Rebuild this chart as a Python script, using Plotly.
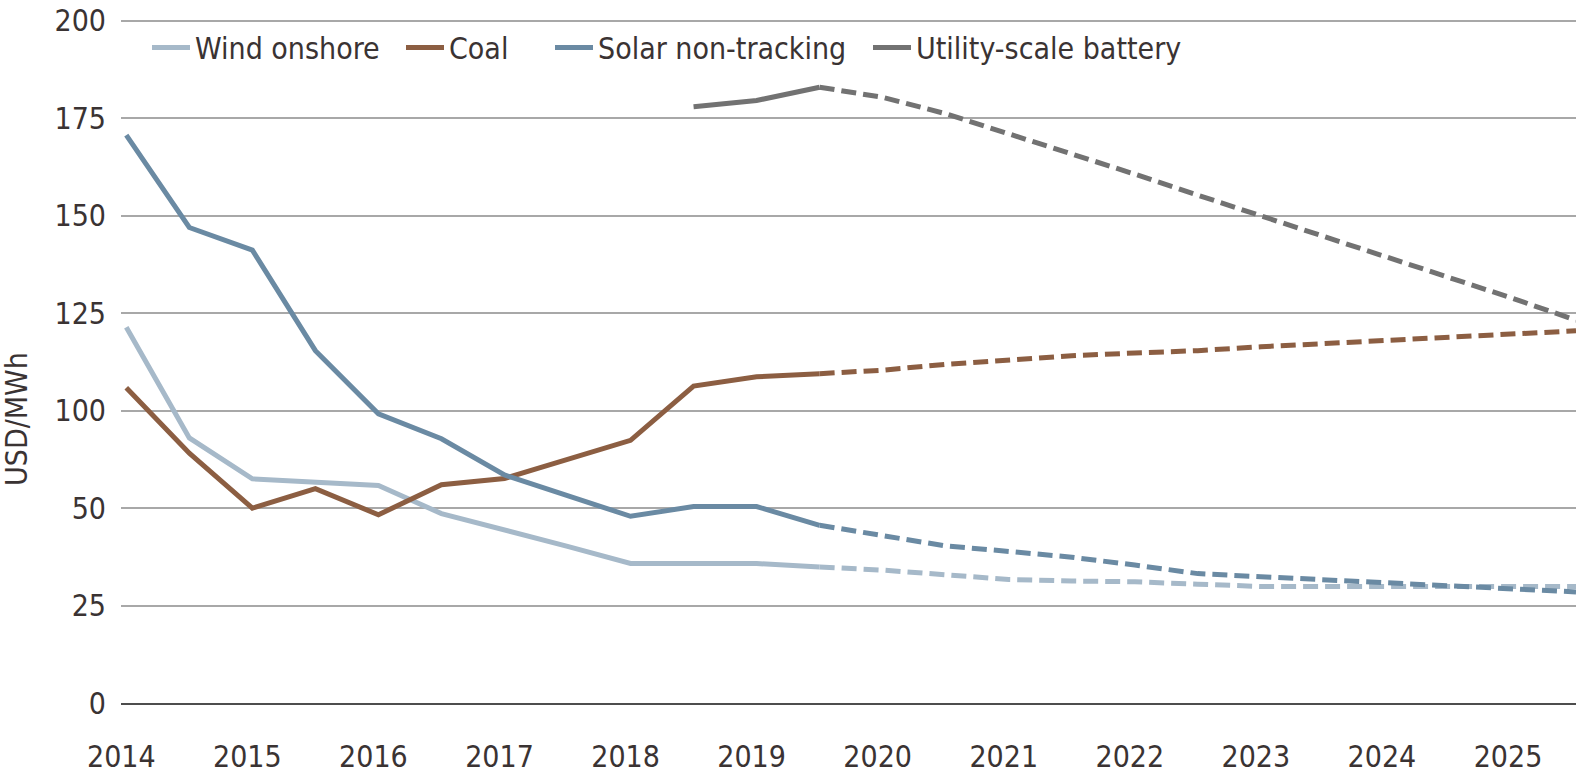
import plotly.graph_objects as go

# ---- data (y values are in the chart's axis units; tick labels below as printed) ----
years_hist = [2014, 2014.5, 2015, 2015.5, 2016, 2016.5, 2017, 2017.5, 2018, 2018.5, 2019, 2019.5]
years_proj = [2019.5, 2020, 2020.5, 2021, 2021.5, 2022, 2022.5, 2023, 2023.5, 2024, 2024.5, 2025, 2025.5]
years_battery_hist = [2018.5, 2019, 2019.5]

wind_hist = [96.4, 68.0, 57.5, 56.5, 55.8, 48.6, 44.5, 40.2, 35.8, 35.8, 35.8, 34.9]
wind_proj = [34.9, 34.1, 32.9, 31.7, 31.3, 31.1, 30.5, 29.9, 29.9, 29.9, 29.9, 29.9, 29.9]

coal_hist = [80.9, 64.1, 50.0, 55.0, 48.3, 56.0, 57.6, 62.6, 67.4, 81.3, 83.7, 84.5]
coal_proj = [84.5, 85.4, 86.9, 88.1, 89.1, 89.8, 90.4, 91.4, 92.2, 93.0, 94.0, 94.7, 95.5]

solar_hist = [145.7, 122.0, 116.2, 90.4, 74.2, 67.8, 58.5, 53.2, 47.9, 50.4, 50.4, 45.6]
solar_proj = [45.6, 42.9, 40.3, 38.9, 37.4, 35.4, 33.2, 32.4, 31.6, 30.9, 30.0, 29.4, 28.5]

battery_hist = [153.0, 154.6, 158.0]
battery_proj = [158.0, 155.4, 151.2, 146.1, 141.0, 135.7, 130.3, 125.0, 119.9, 114.5, 109.2, 103.8, 98.2]

x_tick_years = [2014, 2015, 2016, 2017, 2018, 2019, 2020, 2021, 2022, 2023, 2024, 2025]
y_tickvals = [0, 25, 50, 75, 100, 125, 150, 175]
y_ticktext = ["0", "25", "50", "100", "125", "150", "175", "200"]

series = [
    ("Wind onshore", years_hist, wind_hist, wind_proj, "#a6b9c9", "legend"),
    ("Coal", years_hist, coal_hist, coal_proj, "#8c5e42", "legend2"),
    ("Solar non-tracking", years_hist, solar_hist, solar_proj, "#6a8aa3", "legend3"),
    ("Utility-scale battery", years_battery_hist, battery_hist, battery_proj, "#727272", "legend4"),
]

FONT = "Liberation Sans Narrow, Arial Narrow, DejaVu Sans Condensed, sans-serif"
TXT = "#3a3333"
FS = 30
LW = 5

fig = go.Figure()
for name, xh, yh, yp, color, lg in series:
    fig.add_trace(go.Scatter(
        x=years_proj, y=yp, mode="lines", name=name, showlegend=False,
        line=dict(color=color, width=LW, dash="15px,7px"), hoverinfo="skip"))
for name, xh, yh, yp, color, lg in series:
    fig.add_trace(go.Scatter(
        x=xh, y=yh, mode="lines", name=name, legend=lg,
        line=dict(color=color, width=LW), hoverinfo="skip"))

W, H = 1579, 777
L, R, T, B = 121, 3, 16, 65
pw = W - L - R
ph = H - T - B


def px_to_paper_x(px):
    return (px - L) / pw


def py_to_paper_y(py):
    return (H - B - py) / ph


legend_common = dict(
    orientation="h", xanchor="left", yanchor="middle",
    y=py_to_paper_y(45), bgcolor="rgba(0,0,0,0)", borderwidth=0,
    font=dict(family=FONT, size=FS, color=TXT), itemwidth=38,
)
legend_starts = [147, 401, 550, 868]
layout_legends = {}
for i, sx in enumerate(legend_starts):
    key = "legend" if i == 0 else f"legend{i + 1}"
    layout_legends[key] = dict(legend_common, x=px_to_paper_x(sx))

fig.update_layout(
    width=W, height=H,
    margin=dict(l=L, r=R, t=T, b=B, pad=0),
    paper_bgcolor="white", plot_bgcolor="white",
    font=dict(family=FONT, size=FS, color=TXT),
    showlegend=True,
    **layout_legends,
    xaxis=dict(
        range=[2013.958, 2025.5], tickmode="array", tickvals=x_tick_years,
        ticktext=[str(v) for v in x_tick_years], showgrid=False, zeroline=False,
        showline=True, linecolor="#4d4d4d", linewidth=2, ticks="",
        ticklabelstandoff=26, ticklabelshift=-5, ticklabeloverflow="allow",
        tickfont=dict(family=FONT, size=FS, color=TXT),
    ),
    yaxis=dict(
        range=[0, 175.5], tickmode="array", tickvals=y_tickvals, ticktext=y_ticktext,
        showgrid=True, gridcolor="#a8a8a8", gridwidth=1.5, zeroline=False,
        showline=False, ticks="", ticklabelstandoff=14, ticklabeloverflow="allow",
        tickfont=dict(family=FONT, size=FS, color=TXT),
    ),
    annotations=[dict(
        text="USD/MWh", textangle=-90, xref="paper", yref="paper",
        x=px_to_paper_x(17), y=py_to_paper_y(423), xanchor="center", yanchor="middle",
        showarrow=False, font=dict(family=FONT, size=FS, color=TXT),
    )],
)

fig.write_html("out.html", config={"displayModeBar": False},
               post_script="document.body.style.margin='0';document.body.style.overflow='hidden';")
